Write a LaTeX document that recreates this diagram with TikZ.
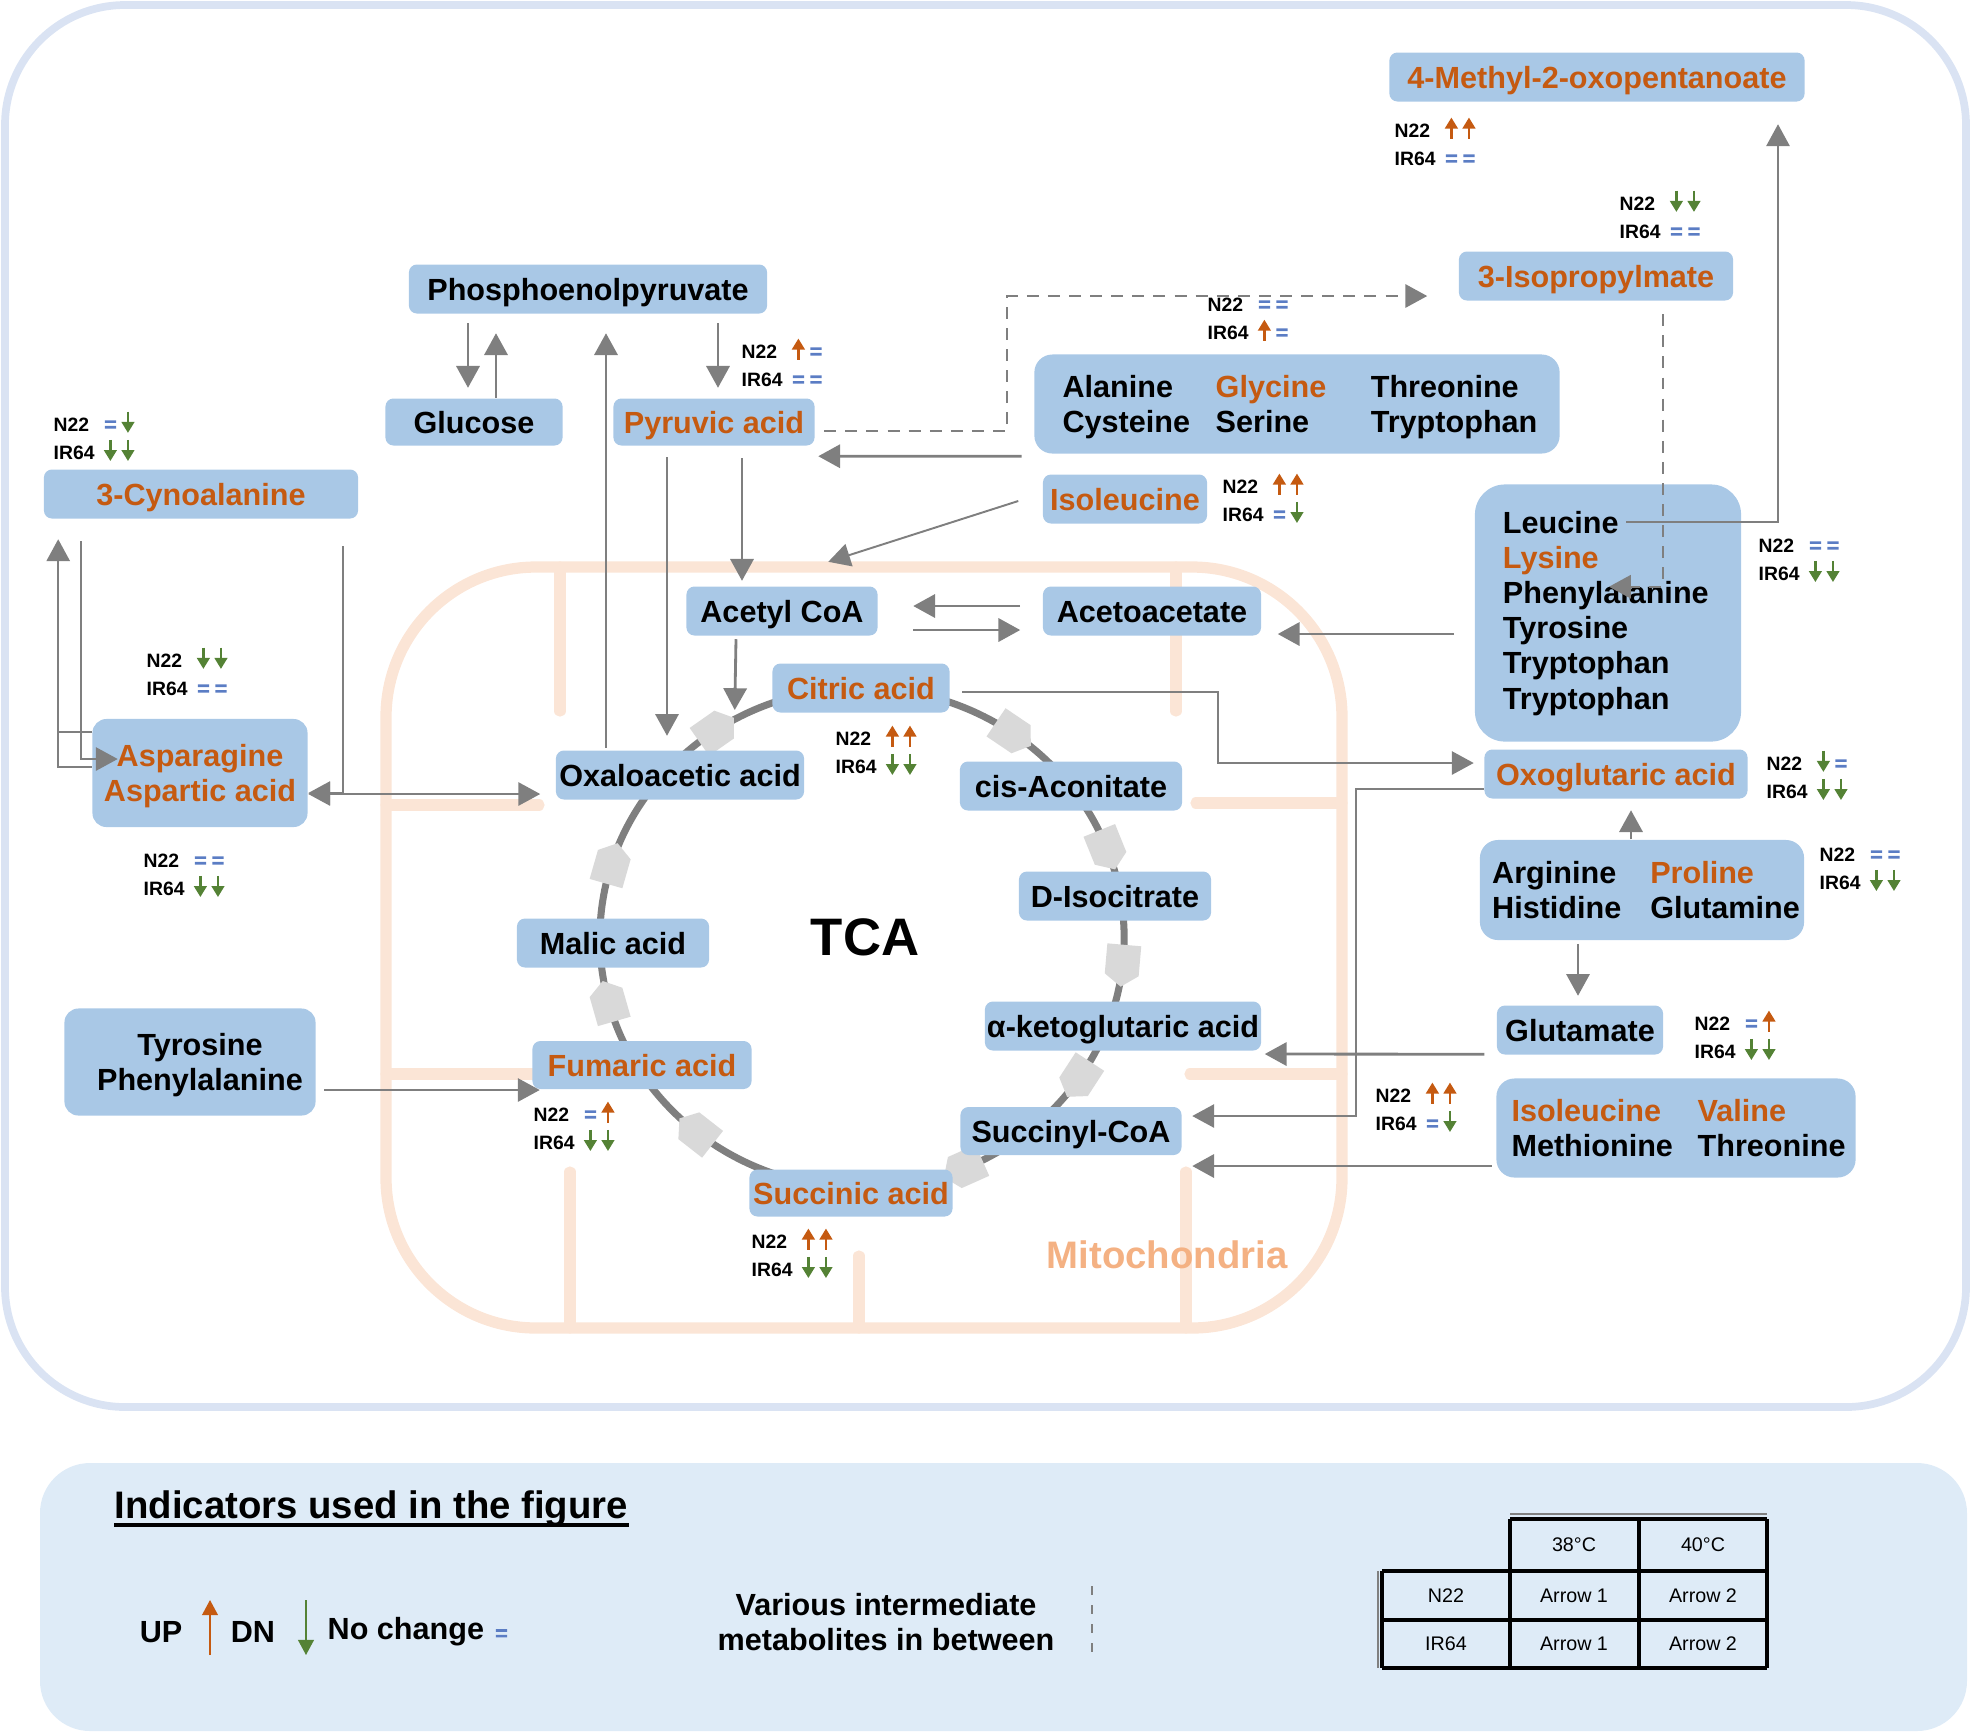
\documentclass[tikz,border=0pt]{standalone}
\usepackage{fontspec}
\setmainfont{Liberation Sans}
\usepackage{tikz}
\usetikzlibrary{arrows.meta,calc,shapes.symbols}

\definecolor{boxblue}{HTML}{A9C8E6}
\definecolor{txtorange}{HTML}{C55A11}
\definecolor{dngreen}{HTML}{548235}
\definecolor{eqblue}{HTML}{5B7DC4}
\definecolor{linegray}{HTML}{7F7F7F}
\definecolor{markgray}{HTML}{D9D9D9}
\definecolor{mitoline}{HTML}{FBE5D6}
\definecolor{mitotext}{HTML}{F4B183}
\definecolor{frameblue}{HTML}{DAE3F3}
\definecolor{legendblue}{HTML}{DEEBF7}

\newcommand{\Org}[1]{\textcolor{txtorange}{#1}}
\newcommand{\Low}[1]{\raisebox{-1.1pt}[\height][\depth]{#1}}
\newcommand{\UpMark}{\tikz[baseline=0pt,x=1pt,y=1pt]{\useasboundingbox (0,-0.3) rectangle (5,5.4);\draw[txtorange,line width=0.8pt] (2.5,-0.5) -- (2.5,2.8);\fill[txtorange] (0.6,2.4) -- (4.4,2.4) -- (2.5,5.5) -- cycle;}}
\newcommand{\DnMark}{\tikz[baseline=0pt,x=1pt,y=1pt]{\useasboundingbox (0,-0.3) rectangle (5,5.4);\draw[dngreen,line width=0.8pt] (2.5,5.5) -- (2.5,2.2);\fill[dngreen] (0.6,2.6) -- (4.4,2.6) -- (2.5,-0.5) -- cycle;}}
\newcommand{\EqMark}{\tikz[baseline=0pt,x=1pt,y=1pt]{\useasboundingbox (0,-0.3) rectangle (5,5.4);\fill[eqblue] (0.9,0.7) rectangle (4.1,1.45) (0.9,2.3) rectangle (4.1,3.05);}}
\newcommand{\Ind}[4]{\node[ind] (#1) at (#2) {\begin{tabular}[t]{@{}l@{\hspace{2pt}}l@{}}N22 & #3\\IR64 & #4\end{tabular}};}

\begin{document}
\begin{tikzpicture}[x=0.01cm,y=-0.01cm,>={Triangle[width=6.6pt,length=6.2pt]}]

\tikzset{
  box/.style={rectangle,rounded corners=0.08cm,fill=boxblue,inner sep=0pt,align=center,font=\fontsize{8.7}{10}\selectfont\bfseries},
  sbox/.style={box,text height=8.5pt,text depth=1.9pt},
  con/.style={draw=linegray,line width=0.8pt,->},
  thincon/.style={con,line width=0.55pt},
  dcon/.style={con,line width=0.6pt,dash pattern=on 3.4pt off 2.6pt},
  link/.style={draw=linegray,line width=0.55pt},
  ind/.style={anchor=base west,inner sep=0pt,font=\fontsize{5.5}{8}\selectfont\bfseries},
  crista/.style={draw=mitoline,line width=3.2pt,line cap=round},
  tcamark/.style={signal,signal to=east,signal pointer angle=110,fill=markgray,inner sep=0pt,minimum width=0.42cm,minimum height=0.34cm},
  lgd/.style={inner sep=0pt,font=\fontsize{8.7}{10.2}\selectfont\bfseries},
  tabtxt/.style={inner sep=0pt,font=\fontsize{5.6}{7}\selectfont}
}

\useasboundingbox (0,0) rectangle (1972,1732);

\draw[frameblue,line width=2.2pt,rounded corners=1.2cm] (5,5) rectangle (1966,1407);
\fill[legendblue,rounded corners=0.5cm] (40,1463) rectangle (1967,1731);

\draw[mitoline,line width=3.2pt,rounded corners=1.5cm] (386,567) rectangle (1342,1328);
\draw[crista] (560,567) -- (560,711) (1176,567) -- (1176,711)
  (386,805) -- (539,805) (386,1074) -- (532,1074)
  (1342,803) -- (1196,803) (1342,1074) -- (1190,1074)
  (570,1328) -- (570,1172) (859,1328) -- (859,1256) (1186,1328) -- (1186,1172);
\node[font=\fontsize{10.9}{13}\selectfont\bfseries,text=mitotext] (mito) at (1167,1255) {Mitochondria};

\draw[linegray,line width=2pt] (862,938) ellipse [x radius=2.62cm,y radius=2.50cm];
\foreach \a [count=\i] in {-56,-22,5,33,66,128,164,196,235}
  \node[tcamark,rotate={-(\a)-90}] (mk\i) at ($(862,938)+(\a:262 and 250)$) {};
\node[font=\fontsize{15}{18}\selectfont\bfseries] (tca) at (865,937) {TCA};

\node[sbox,minimum width=4.15cm,minimum height=0.49cm] (meth) at (1597,77) {\Org{4-Methyl-2-oxopentanoate}};
\node[sbox,minimum width=2.74cm,minimum height=0.49cm] (iso) at (1596,276) {\Org{3-Isopropylmate}};
\node[sbox,minimum width=3.58cm,minimum height=0.49cm] (pep) at (588,289) {Phosphoenolpyruvate};
\node[sbox,minimum width=1.77cm,minimum height=0.47cm] (glu) at (474,422) {Glucose};
\node[sbox,minimum width=2.01cm,minimum height=0.47cm] (pyr) at (714,422) {\Org{Pyruvic acid}};
\node[box,minimum width=5.25cm,minimum height=0.99cm,rounded corners=0.18cm] (ala) at (1297,404)
  {\hspace{0.06cm}\Low{\begin{tabular}{@{}p{1.53cm}@{}p{1.55cm}@{}l@{}}Alanine & \Org{Glycine} & Threonine\\Cysteine & Serine & Tryptophan\end{tabular}}};
\node[sbox,minimum width=1.64cm,minimum height=0.49cm] (ile) at (1125,499) {\Org{Isoleucine}};
\node[sbox,minimum width=3.14cm,minimum height=0.49cm] (cya) at (201,494) {\Org{3-Cynoalanine}};
\node[box,minimum width=2.66cm,minimum height=2.57cm,rounded corners=0.3cm] (leu) at (1608,613)
  {\raisebox{-0.3pt}[\height][\depth]{\begin{tabular}{@{}p{2.10cm}@{}}Leucine\\\Org{Lysine}\\Phenylalanine\\Tyrosine\\Tryptophan\\Tryptophan\end{tabular}}};
\node[sbox,minimum width=1.91cm,minimum height=0.49cm] (acc) at (782,611) {Acetyl CoA};
\node[sbox,minimum width=2.18cm,minimum height=0.49cm] (aca) at (1152,611) {Acetoacetate};
\node[sbox,minimum width=1.77cm,minimum height=0.49cm] (cit) at (861,688) {\Org{Citric acid}};
\node[box,minimum width=2.15cm,minimum height=1.08cm,rounded corners=0.14cm] (asp) at (200,773)
  {\Low{\begin{tabular}{@{}c@{}}\Org{Asparagine}\\\Org{Aspartic acid}\end{tabular}}};
\node[sbox,minimum width=2.48cm,minimum height=0.49cm] (oxa) at (680,775) {Oxaloacetic acid};
\node[sbox,minimum width=2.22cm,minimum height=0.49cm] (cis) at (1071,786) {cis-Aconitate};
\node[sbox,minimum width=2.63cm,minimum height=0.49cm] (oxg) at (1616,774) {\Org{Oxoglutaric acid}};
\node[box,minimum width=3.24cm,minimum height=1.00cm,rounded corners=0.18cm] (arg) at (1642,890)
  {\hspace{0.08cm}\Low{\begin{tabular}{@{}p{1.58cm}@{}l@{}}Arginine & \Org{Proline}\\Histidine & Glutamine\end{tabular}}};
\node[sbox,minimum width=1.92cm,minimum height=0.49cm] (dis) at (1115,896) {D-Isocitrate};
\node[sbox,minimum width=1.92cm,minimum height=0.49cm] (mal) at (613,943) {Malic acid};
\node[sbox,minimum width=2.76cm,minimum height=0.49cm] (akg) at (1123,1026) {α-ketoglutaric acid};
\node[sbox,minimum width=1.66cm,minimum height=0.49cm] (glm) at (1580,1030) {Glutamate};
\node[box,minimum width=2.51cm,minimum height=1.07cm,rounded corners=0.14cm] (tyr) at (190,1062)
  {\hspace{0.2cm}\Low{\begin{tabular}{@{}c@{}}Tyrosine\\Phenylalanine\end{tabular}}};
\node[sbox,minimum width=2.19cm,minimum height=0.48cm] (fum) at (642,1065) {\Org{Fumaric acid}};
\node[box,minimum width=3.59cm,minimum height=0.99cm,rounded corners=0.18cm] (val) at (1676,1128)
  {\hspace{0.05cm}\Low{\begin{tabular}{@{}p{1.86cm}@{}l@{}}\Org{Isoleucine} & \Org{Valine}\\Methionine & Threonine\end{tabular}}};
\node[sbox,minimum width=2.21cm,minimum height=0.48cm] (suc) at (1071,1131) {Succinyl-CoA};
\node[sbox,minimum width=2.03cm,minimum height=0.47cm] (scn) at (851,1193) {\Org{Succinic acid}};

\draw[con] ($(pep.south)+(-120,9)$) -- ($(glu.north)+(-6,-10)$);
\draw[con] ($(glu.north)+(22,0)$) -- ($(pep.south)+(-92,19)$);
\draw[con] ($(oxa.north)+(-74,-2)$) -- ($(pep.south)+(18,19)$);
\draw[con] ($(pep.south)+(130,9)$) -- ($(pyr.north)+(4,-10)$);
\draw[con] ($(pyr.south)+(-47,11)$) -- ($(oxa.north)+(-13,-14)$);
\draw[con] ($(pyr.south)+(28,12)$) -- ($(acc.north)+(-40,-5)$);
\draw[con] ($(acc.south)+(-46,3)$) -- ($(cit.west)+(-37,22)$);
\draw[con] ($(ala.south west)+(-12,2)$) -- ($(pyr.south east)+(3,10)$);
\draw[dcon] ($(pyr.east)+(9,9)$) -- ++(183,0) |- ($(iso.west)+(-31,20)$);
\draw[thincon] ($(ile.west)+(-24,2)$) -- ($(acc.north east)+(-50,-24)$);
\draw[con] ($(aca.west)+(-22,-5)$) -- ($(acc.east)+(35,-5)$);
\draw[con] ($(acc.east)+(35,19)$) -- ($(aca.west)+(-22,19)$);
\draw[con] ($(leu.west)+(-20,21)$) -- ($(aca.east)+(16,23)$);
\draw[thincon] ($(leu.north)+(18,38)$) -| ($(meth.south)+(181,22)$);
\draw[dcon] ($(iso.south)+(67,13)$) |- ($(leu.north)+(1,103)$);
\draw[thincon] ($(cit.east)+(12,4)$) -- ++(256,0) |- ($(oxg.west)+(-10,-11)$);
\draw[thincon] ($(oxg.west)+(0,15)$) -- ++(-128,0) |- ($(suc.east)+(10,-15)$);
\draw[con] ($(glm.south west)+(-12,-1)$) -- ($(akg.east)+(3,28)$);
\draw[con] ($(val.west)+(-4,38)$) -- ($(suc.east)+(10,35)$);
\draw[con] ($(arg.north)+(-11,0)$) -- ($(oxg.south)+(15,11)$);
\draw[con] ($(arg.south)+(-64,3)$) -- ($(glm.north)+(-2,-9)$);
\draw[thincon] ($(tyr.east)+(8,28)$) -- ($(fum.west)+(8,25)$);
\draw[thincon,<->] ($(asp.east)+(0,21)$) -- ($(oxa.west)+(-15,19)$);
\draw[thincon] ($(cya.south east)+(-16,27)$) |- ($(asp.east)+(0,20)$);
\draw[link] ($(asp.west)+(0,-41)$) -- ++(-34,0);
\draw[thincon] ($(asp.west)+(0,-6)$) -| ($(cya.south west)+(15,20)$);
\draw[thincon] ($(cya.south west)+(38,22)$) |- ($(asp.west)+(26,-14)$);

\Ind{imeth}{1394,137}{\UpMark\UpMark}{\EqMark\EqMark}
\Ind{iiso}{1619,210}{\DnMark\DnMark}{\EqMark\EqMark}
\Ind{iala}{1207,311}{\EqMark\EqMark}{\UpMark\EqMark}
\Ind{ipyr}{741,358}{\UpMark\EqMark}{\EqMark\EqMark}
\Ind{icya}{53,431}{\EqMark\DnMark}{\DnMark\DnMark}
\Ind{iile}{1222,493}{\UpMark\UpMark}{\EqMark\DnMark}
\Ind{ileu}{1758,552}{\EqMark\EqMark}{\DnMark\DnMark}
\Ind{iaspa}{146,667}{\DnMark\DnMark}{\EqMark\EqMark}
\Ind{iaspb}{143,867}{\EqMark\EqMark}{\DnMark\DnMark}
\Ind{icit}{835,745}{\UpMark\UpMark}{\DnMark\DnMark}
\Ind{ioxg}{1766,770}{\DnMark\EqMark}{\DnMark\DnMark}
\Ind{iarg}{1819,861}{\EqMark\EqMark}{\DnMark\DnMark}
\Ind{iglm}{1694,1030}{\EqMark\UpMark}{\DnMark\DnMark}
\Ind{isuc}{1375,1102}{\UpMark\UpMark}{\EqMark\DnMark}
\Ind{ifum}{533,1121}{\EqMark\UpMark}{\DnMark\DnMark}
\Ind{iscn}{751,1248}{\UpMark\UpMark}{\DnMark\DnMark}

\node[anchor=base west,inner sep=0pt,font=\fontsize{10.9}{13}\selectfont\bfseries] (indt) at (114,1518) {Indicators used in the figure};
\draw[line width=0.9pt] ($(indt.base west)+(0,7)$) -- ($(indt.base east)+(0,7)$);
\node[lgd] (upt) at (161,1632) {UP};
\draw[txtorange,line width=0.45pt,-{Triangle[width=4.5pt,length=4.3pt]}] (210,1655) -- (210,1600);
\node[lgd] (dnt) at (253,1632) {DN};
\draw[dngreen,line width=0.45pt,-{Triangle[width=4.5pt,length=4.3pt]}] (306,1600) -- (306,1655);
\node[lgd,anchor=west] (noc) at (327,1632) {No change \EqMark};
\node[lgd,align=center] (vim) at (886,1622) {Various intermediate\\metabolites in between};
\draw[linegray,line width=0.7pt,dash pattern=on 2.6pt off 2.8pt] (1092,1586) -- (1092,1657);

\draw[gray,line width=0.6pt] (1510,1514) -- (1767,1514) (1378,1571) -- (1378,1668);
\draw[line width=1.1pt] (1510,1519) -- (1767,1519) (1382,1571) -- (1767,1571)
  (1382,1620) -- (1767,1620) (1382,1668) -- (1767,1668)
  (1382,1571) -- (1382,1668) (1510,1519) -- (1510,1668)
  (1639,1519) -- (1639,1668) (1767,1519) -- (1767,1668);
\node[tabtxt] (t38) at (1574,1545) {38°C};
\node[tabtxt] (t40) at (1703,1545) {40°C};
\node[tabtxt] (tn) at (1446,1596) {N22};
\node[tabtxt] (tna) at (1574,1596) {Arrow 1};
\node[tabtxt] (tnb) at (1703,1596) {Arrow 2};
\node[tabtxt] (ti) at (1446,1644) {IR64};
\node[tabtxt] (tia) at (1574,1644) {Arrow 1};
\node[tabtxt] (tib) at (1703,1644) {Arrow 2};

\end{tikzpicture}
\end{document}
